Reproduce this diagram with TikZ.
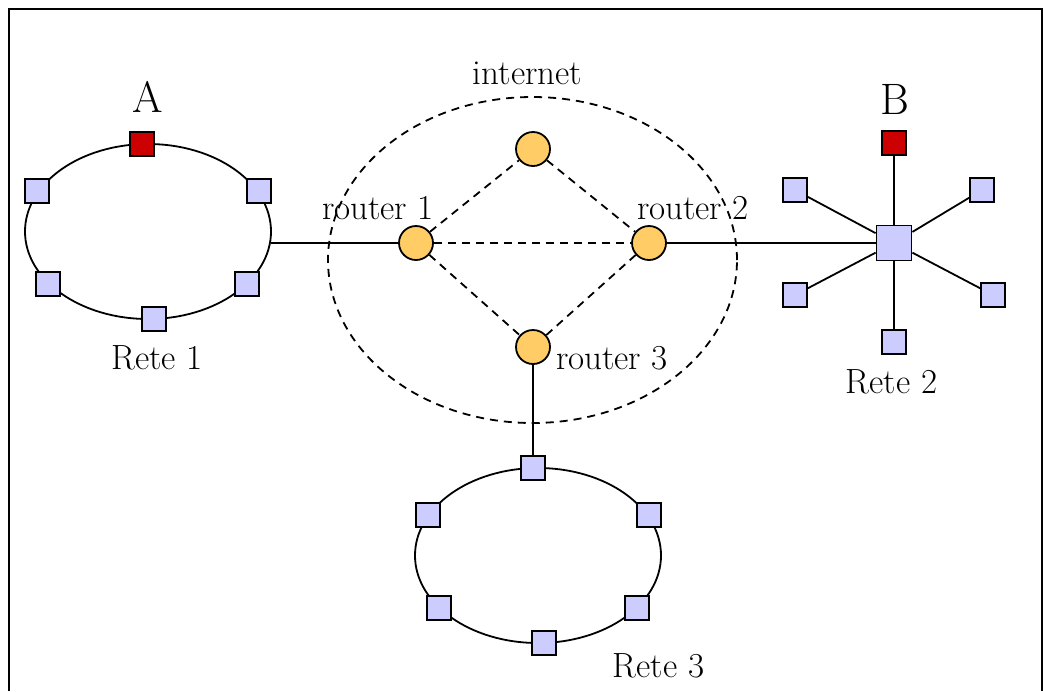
\documentclass[tikz,border=0pt]{standalone}
\usetikzlibrary{positioning}
\definecolor{pcblue}{RGB}{204,204,255}
\definecolor{pcred}{RGB}{204,0,0}
\definecolor{routerorange}{RGB}{255,204,102}
\tikzset{
  pc/.style={draw,line width=0.9pt,fill=pcblue,minimum size=12pt,inner sep=0pt},
  pcend/.style={pc,fill=pcred},
  hubpc/.style={pc,minimum size=17.5pt},
  router/.style={draw,circle,line width=0.9pt,fill=routerorange,minimum size=17pt,inner sep=0pt},
  lbl/.style={font=\fontsize{17.5}{21}\selectfont},
  biglbl/.style={font=\fontsize{22}{26}\selectfont},
  link/.style={dash pattern=on 4pt off 3pt}
}
\begin{document}
\begin{tikzpicture}[x=0.5pt,y=-0.5pt,line width=0.9pt]
    \useasboundingbox (0,0) rectangle (1043,691);
    \draw[line width=1pt] (9,691) -- (9,9) -- (1041.5,9) -- (1041.5,691);
    % internet
    \draw[link] (532.5,260) ellipse [x radius=102.25pt, y radius=81.5pt];
    \node[lbl] (inet) at (527.5,73) {internet};
    % Rete 1 (ring)
    \draw (148,231.5) ellipse [x radius=61.5pt, y radius=43.75pt];
    \coordinate (r1port) at (271,243);
    \node[pcend] (a0) at (142,144) {};
    \node[pc] (a1) at (37,191) {};
    \node[pc] (a2) at (259,191) {};
    \node[pc] (a3) at (48,284) {};
    \node[pc] (a4) at (247,284) {};
    \node[pc] (a5) at (154,319) {};
    \node[biglbl] (lA) at (148,97) {A};
    \node[lbl] (rete1) at (157,358) {Rete 1};
    % Rete 3 (ring)
    \draw (538,555.5) ellipse [x radius=61.5pt, y radius=43.75pt];
    \node[pc] (c0) at (533,468) {};
    \node[pc] (c1) at (428,515) {};
    \node[pc] (c2) at (649,515) {};
    \node[pc] (c3) at (439,608) {};
    \node[pc] (c4) at (637,608) {};
    \node[pc] (c5) at (544,643) {};
    \node[lbl] (rete3) at (658.5,666) {Rete 3};
    % Rete 2 (star)
    \node[hubpc] (hub) at (894,243) {};
    \node[pcend] (b0) at (894,143) {};
    \node[pc] (b1) at (795,190) {};
    \node[pc] (b2) at (982,190) {};
    \node[pc] (b3) at (795,295) {};
    \node[pc] (b4) at (993,295) {};
    \node[pc] (b5) at (894,342) {};
    \foreach \n in {b0,b1,b2,b3,b4,b5}
        \draw (hub) -- (\n);
    \node[biglbl] (lB) at (895,99) {B};
    \node[lbl] (rete2) at (891.5,382) {Rete 2};
    % routers
    \node[router] (r1) at (416,243) {};
    \node[router] (r2) at (649,243) {};
    \node[router] (r4) at (533,149) {};
    \node[router] (r3) at (533,347) {};
    \draw[link] (r1) -- (r4);
    \draw[link] (r4) -- (r2);
    \draw[link] (r1) -- (r2);
    \draw[link] (r1) -- (r3);
    \draw[link] (r3) -- (r2);
    \draw (r1port) -- (r1);
    \draw (r2) -- (hub);
    \draw (r3) -- (c0);
    \node[lbl] (lr1) at (378,208) {router 1};
    \node[lbl] (lr2) at (693,208) {router 2};
    \node[lbl] (lr3) at (612,358) {router 3};

\end{tikzpicture}
\end{document}
